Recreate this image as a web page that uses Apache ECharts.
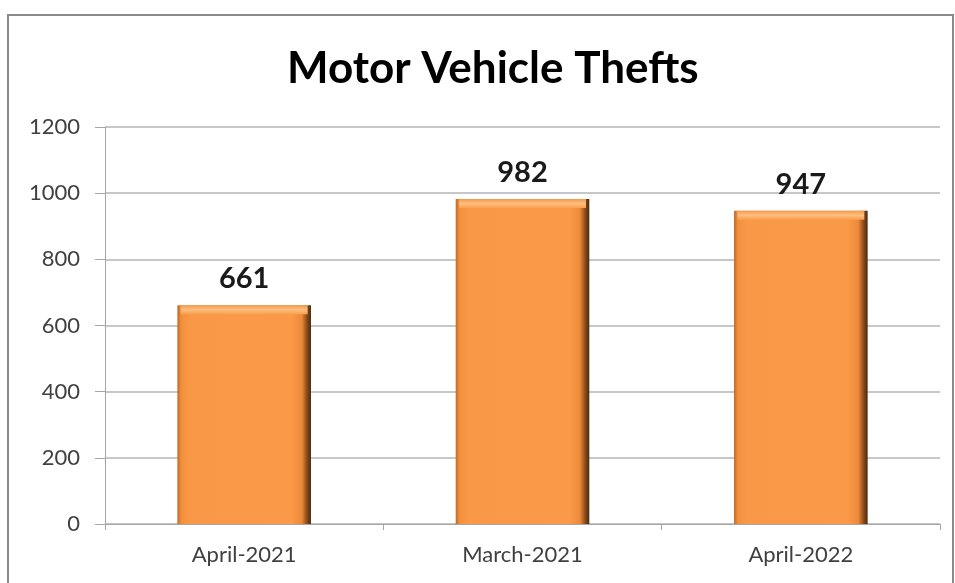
<!DOCTYPE html>
<html><head><meta charset="utf-8">
<script src="https://cdn.jsdelivr.net/npm/echarts@6/dist/echarts.min.js"></script>
<style>html,body{margin:0;padding:0;background:#fff}#c{width:955px;height:583px}</style>
</head><body><div id="c"></div>
<script>
const categories = ["April-2021", "March-2021", "April-2022"];
const thefts = [661, 982, 947];
const yTicks = [0, 200, 400, 600, 800, 1000, 1200];
const chartTitle = "Motor Vehicle Thefts";

const chart = echarts.init(document.getElementById('c'), null, {renderer: 'canvas'});
const FONT = 'Lato';
chart.setOption({
  animation: false,
  backgroundColor: '#ffffff',
  title: {
    text: chartTitle, left: 282, top: 42,
    textStyle: {fontFamily: FONT, fontWeight: 'bold', fontSize: 44, color: '#000'}
  },
  graphic: [{
    type: 'rect', shape: {x: 8, y: 15, width: 945, height: 600},
    style: {fill: 'none', stroke: '#8a8a8a', lineWidth: 2}, silent: true
  }],
  grid: {left: 105, right: 15, top: 127, bottom: 59, containLabel: false},
  xAxis: {
    type: 'category', data: categories,
    axisLine: {lineStyle: {color: '#a6a6a6', width: 1}},
    axisTick: {show: true, length: 6, alignWithLabel: false, lineStyle: {color: '#a6a6a6'}},
    axisLabel: {fontFamily: FONT, fontSize: 22, color: '#404040', margin: 20}
  },
  yAxis: {
    type: 'value', min: yTicks[0], max: yTicks[yTicks.length - 1], interval: 200,
    axisLine: {show: true, lineStyle: {color: '#a6a6a6', width: 1}},
    axisTick: {show: true, length: 10, lineStyle: {color: '#a6a6a6'}},
    splitLine: {lineStyle: {color: '#b4b4b4', width: 1.5}},
    axisLabel: {fontFamily: FONT, fontSize: 22, color: '#404040', margin: 25,
      formatter: v => String(v)}
  },
  series: [{
    type: 'bar', data: thefts, barWidth: '48%', z: 2,
    itemStyle: {
      color: {type: 'linear', x: 0, y: 0, x2: 1, y2: 0, colorStops: [
        {offset: 0, color: '#c0692a'},
        {offset: 0.03, color: '#f3903e'},
        {offset: 0.1, color: '#f99947'},
        {offset: 0.85, color: '#fa9a48'},
        {offset: 0.93, color: '#ec8a3a'},
        {offset: 0.97, color: '#8a4a1a'},
        {offset: 1, color: '#4a2a10'}
      ]}
    },
    label: {
      show: true, position: 'top', distance: 12,
      fontFamily: FONT, fontWeight: 'bold', fontSize: 29, color: '#1a1a1a'
    }
  }, {
    type: 'pictorialBar', data: thefts, barWidth: '48%', barGap: '-100%', z: 3,
    symbol: 'rect', symbolPosition: 'end', symbolSize: ['95%', 9], symbolOffset: [0, 0],
    itemStyle: {color: {type: 'linear', x: 0, y: 0, x2: 0, y2: 1, colorStops: [
      {offset: 0, color: '#f39a50'},
      {offset: 0.5, color: '#fdbf7e'},
      {offset: 1, color: '#fa9d4e'}
    ]}},
    silent: true
  }]
});
</script></body></html>
